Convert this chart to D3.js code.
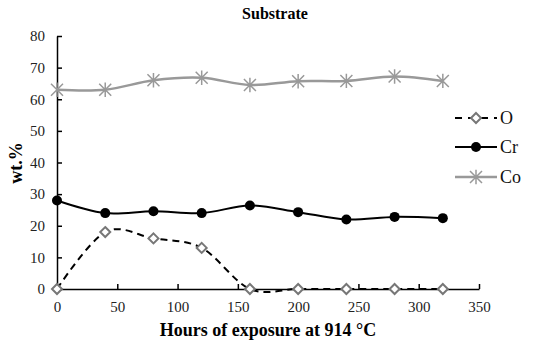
<!DOCTYPE html>
<html>
<head>
<meta charset="utf-8">
<script src="https://cdn.jsdelivr.net/npm/d3@7"></script>
<style>
  body { margin: 0; background: #fff; }
  svg text { font-family: "Liberation Serif", "Times New Roman", serif; }
</style>
</head>
<body>
<div id="chart"></div>
<script>
const hours = [0, 40, 80, 120, 160, 200, 240, 280, 320];
const oValues = [0, 18, 16, 13, 0, 0, 0, 0, 0];
const crValues = [28, 24, 24.6, 24, 26.4, 24.3, 22, 22.8, 22.4];
const coValues = [63, 63, 66, 66.8, 64.5, 65.7, 65.8, 67.2, 65.8];
const xTicks = [0, 50, 100, 150, 200, 250, 300, 350];
const yTicks = [0, 10, 20, 30, 40, 50, 60, 70, 80];

const width = 550, height = 350;
const margin = { top: 36, right: 71, bottom: 61, left: 57 };
const serif = "Liberation Serif, Times New Roman, serif";

const svg = d3.select("#chart").append("svg")
  .attr("width", width).attr("height", height)
  .attr("font-family", serif);

const x = d3.scaleLinear().domain([0, 350]).range([margin.left, width - margin.right]);
const y = d3.scaleLinear().domain([0, 80]).range([height - margin.bottom, margin.top]);

// axes
const gX = svg.append("g")
  .attr("transform", "translate(0," + y(0) + ")")
  .call(d3.axisBottom(x).tickValues(xTicks).tickSizeInner(-5).tickSizeOuter(0).tickPadding(12));
const gY = svg.append("g")
  .attr("transform", "translate(" + x(0) + ",0)")
  .call(d3.axisLeft(y).tickValues(yTicks).tickSizeInner(-5).tickSizeOuter(0).tickPadding(12));

[gX, gY].forEach(g => {
  g.attr("font-family", serif).attr("font-size", 15);
  g.select(".domain").attr("stroke", "#000").attr("stroke-width", 1.5);
  g.selectAll(".tick line").attr("stroke", "#000").attr("stroke-width", 1.5);
  g.selectAll(".tick text").attr("fill", "#222");
});

const line = vals => d3.line()
  .x((d, i) => x(hours[i]))
  .y(d => y(d))
  .curve(d3.curveCatmullRom.alpha(0))(vals);

// Co
svg.append("path").attr("d", line(coValues))
  .attr("fill", "none").attr("stroke", "#999").attr("stroke-width", 2.5);
// Cr
svg.append("path").attr("d", line(crValues))
  .attr("fill", "none").attr("stroke", "#000").attr("stroke-width", 2);
// O
svg.append("path").attr("d", line(oValues))
  .attr("fill", "none").attr("stroke", "#000").attr("stroke-width", 2)
  .attr("stroke-dasharray", "7,5");

function star(g, cx, cy, s) {
  const p = "M" + (cx - s) + "," + (cy - s) + "L" + (cx + s) + "," + (cy + s) +
    "M" + (cx - s) + "," + (cy + s) + "L" + (cx + s) + "," + (cy - s) +
    "M" + cx + "," + (cy - s * 1.2) + "L" + cx + "," + (cy + s * 1.2);
  g.append("path").attr("d", p).attr("stroke", "#999").attr("stroke-width", 1.5).attr("fill", "none");
}
function diamond(g, cx, cy, s) {
  g.append("path")
    .attr("d", "M" + cx + "," + (cy - s) + "L" + (cx + s) + "," + cy + "L" + cx + "," + (cy + s) + "L" + (cx - s) + "," + cy + "Z")
    .attr("fill", "#fff").attr("stroke", "#777").attr("stroke-width", 2);
}

const marks = svg.append("g");
coValues.forEach((v, i) => star(marks, x(hours[i]), y(v), 6));
crValues.forEach((v, i) => marks.append("circle")
  .attr("cx", x(hours[i])).attr("cy", y(v)).attr("r", 5).attr("fill", "#000"));
oValues.forEach((v, i) => diamond(marks, x(hours[i]), y(v), 5));

// legend
const legend = svg.append("g");
const items = [
  { name: "O", ly: 118 },
  { name: "Cr", ly: 147 },
  { name: "Co", ly: 177 }
];
items.forEach(it => {
  const x1 = 455, x2 = 497, cx = 476;
  if (it.name === "O") {
    legend.append("line").attr("x1", x1).attr("x2", x2).attr("y1", it.ly).attr("y2", it.ly)
      .attr("stroke", "#000").attr("stroke-width", 2).attr("stroke-dasharray", "7,6");
    diamond(legend, cx, it.ly, 5);
  } else if (it.name === "Cr") {
    legend.append("line").attr("x1", x1).attr("x2", x2).attr("y1", it.ly).attr("y2", it.ly)
      .attr("stroke", "#000").attr("stroke-width", 2);
    legend.append("circle").attr("cx", cx).attr("cy", it.ly).attr("r", 5).attr("fill", "#000");
  } else {
    legend.append("line").attr("x1", x1).attr("x2", x2).attr("y1", it.ly).attr("y2", it.ly)
      .attr("stroke", "#999").attr("stroke-width", 2.5);
    star(legend, cx, it.ly, 6);
  }
  legend.append("text").attr("x", 500).attr("y", it.ly + 6)
    .attr("font-size", 18).attr("fill", "#111").text(it.name);
});

// titles
svg.append("text").attr("x", 275).attr("y", 19).attr("text-anchor", "middle")
  .attr("font-size", 16).attr("font-weight", "bold").text("Substrate");
svg.append("text").attr("x", 268).attr("y", 336).attr("text-anchor", "middle")
  .attr("font-size", 18).attr("font-weight", "bold").text("Hours of exposure at 914 °C");
svg.append("text").attr("transform", "translate(22,163) rotate(-90)").attr("text-anchor", "middle")
  .attr("font-size", 18).attr("font-weight", "bold").text("wt.%");
</script>
</body>
</html>
